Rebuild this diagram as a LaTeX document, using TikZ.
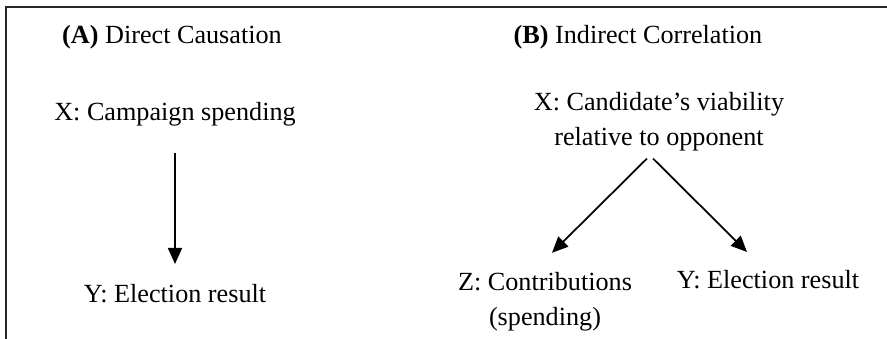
\documentclass[tikz,border=0pt]{standalone}
\usepackage{fontspec}
\setmainfont{Liberation Serif}
\usetikzlibrary{arrows.meta}
\begin{document}
\begin{tikzpicture}[line cap=butt,line join=miter,>={Triangle[length=3.2mm,width=2.8mm]},
		lbl/.style={inner sep=0pt,font=\fontsize{14.9}{19.5}\selectfont},
		conn/.style={->,line width=1pt}]
			\useasboundingbox (0,0) rectangle (17.74,-6.78);
			\draw[line width=1pt,black!85] (0.12,-6.78) |- (17.74,-0.14);
			% panel A
			\node[lbl,anchor=base] (ta) at (3.44,-0.86) {\textbf{(A)} Direct Causation};
			\node[lbl,anchor=base] (xa) at (3.50,-2.40) {X: Campaign spending};
			\node[lbl,anchor=base] (ya) at (3.50,-6.04) {Y: Election result};
			\draw[conn,shorten <=0.53cm,shorten >=0.39cm] (xa.south) -- (ya.north);
			% panel B
			\node[lbl,anchor=base] (tb) at (12.76,-0.86) {\textbf{(B)} Indirect Correlation};
			\node[lbl,anchor=north,align=center] (xb) at (13.18,-1.846) {X: Candidate's viability\\relative to opponent};
			\node[lbl,anchor=north,align=center] (zb) at (10.90,-5.446) {Z: Contributions\\(spending)};
			\node[lbl,anchor=base] (yb) at (15.36,-5.76) {Y: Election result};
			\draw[conn] ([xshift=-0.24cm,yshift=-0.15cm]xb.south) -- ([xshift=0.14cm,yshift=0.39cm]zb.north);
			\draw[conn] ([xshift=-0.12cm,yshift=-0.15cm]xb.south) -- ([xshift=-0.42cm,yshift=0.35cm]yb.north);
		\end{tikzpicture}
\end{document}
